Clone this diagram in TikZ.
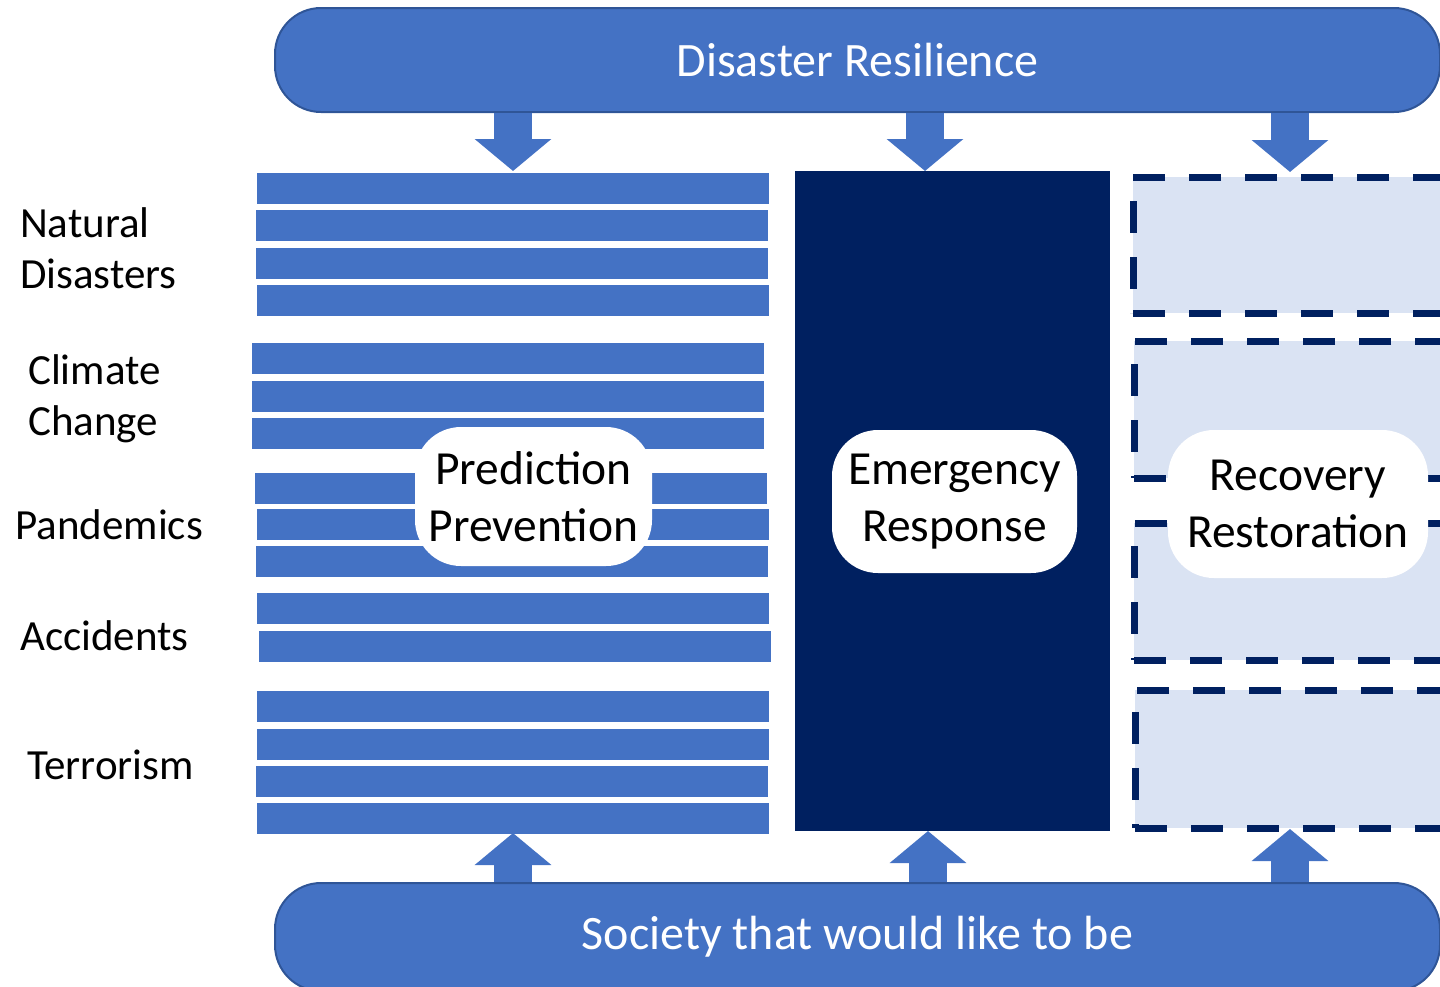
\documentclass[tikz,border=0pt]{standalone}
\usepackage{fontspec}
\setmainfont{Carlito}
\usetikzlibrary{arrows.meta}
\definecolor{barblue}{HTML}{4472C4}
\definecolor{barline}{HTML}{2F5597}
\definecolor{navy}{HTML}{002060}
\definecolor{paleblue}{HTML}{DAE3F3}
\begin{document}
\begin{tikzpicture}[x=1pt, y=-1pt,
    banner/.style={draw=barline, line width=2pt, fill=barblue, rounded corners=46pt, text=white, inner sep=0pt, minimum width=1165pt, font=\fontsize{48}{58}\selectfont},
    stripe/.style={fill=barblue, inner sep=0pt, minimum width=512pt, minimum height=31pt, anchor=north west},
    phase/.style={fill=white, rounded corners=46pt, align=center, inner sep=0pt, font=\fontsize{47.5}{57}\selectfont},
    hazard/.style={anchor=west, align=left, inner sep=0pt, font=\fontsize{43}{51}\selectfont},
    recbox/.style={draw=navy, fill=paleblue, line width=7pt, dash pattern=on 32pt off 24pt, anchor=north west, inner sep=0pt, outer sep=0pt, minimum width=340pt},
    bigarrow/.style={draw=barblue, line width=38pt, -{Triangle[length=32pt, width=75pt]}}]
    \useasboundingbox (0,0) rectangle (1440,986);

    % Banners
    \node[banner, minimum height=104pt] (top) at (857.5,60) {\raisebox{-2pt}{Disaster Resilience}};
    \node[banner, minimum height=108pt] (bot) at (857.5,937) {Society that would like to be};

    % Prediction / prevention stripes
    \foreach \x/\y [count=\i] in {257/173, 256/210, 256/248, 257/285, 252/343, 252/381, 252/418, 255/473,
                                  257/509, 256/546, 257/593, 259/631, 257/691, 257/729, 256/766, 257/803}
        \node[stripe] (st\i) at (\x,\y) {};

    % Emergency response block
    \node[fill=navy, inner sep=0pt, minimum width=315pt, minimum height=660pt, anchor=north west] (er) at (795,171) {};

    % Recovery boxes
    \node[recbox, minimum height=136pt] (rc1) at (1133,177) {};
    \node[recbox, minimum height=137pt] (rc2) at (1134,341) {};
    \node[recbox, minimum height=137pt] (rc3) at (1134,523) {};
    \node[recbox, minimum height=138pt] (rc4) at (1135,690) {};

    % Phase labels
    \node[phase, minimum width=237pt, minimum height=139pt] (pp) at (533.5,496.5) {Prediction\\Prevention};
    \node[phase, minimum width=245pt, minimum height=143pt] (resp) at (954.5,501.5) {Emergency\\Response};
    \node[phase, minimum width=260pt, minimum height=148pt] (rr) at (1298,504) {\raisebox{-3pt}{Recovery}\\\raisebox{-3pt}{Restoration}};

    % Hazards
    \node[hazard] (nat) at (20,248) {Natural\\Disasters};
    \node[hazard] (clim) at (28,399) {Climate\\Change};
    \node[hazard] (pand) at (15,525) {Pandemics};
    \node[hazard] (acc) at (20,636) {Accidents};
    \node[hazard] (terr) at (27,765) {Terrorism};

    % Arrow tips
    \coordinate (pA) at (513,171);
    \coordinate (eA) at (925,171);
    \coordinate (rA) at (1290,172);
    \coordinate (pB) at (513,833);
    \coordinate (eB) at (928,831);
    \coordinate (rB) at (1290,829);

    % Connections
    \draw[bigarrow] (top.south -| pA) -- (pA);
    \draw[bigarrow] (top.south -| eA) -- (eA);
    \draw[bigarrow] (top.south -| rA) -- (rA);
    \draw[bigarrow] (bot.north -| pB) -- (pB);
    \draw[bigarrow] (bot.north -| eB) -- (eB);
    \draw[bigarrow] (bot.north -| rB) -- (rB);
\end{tikzpicture}
\end{document}
